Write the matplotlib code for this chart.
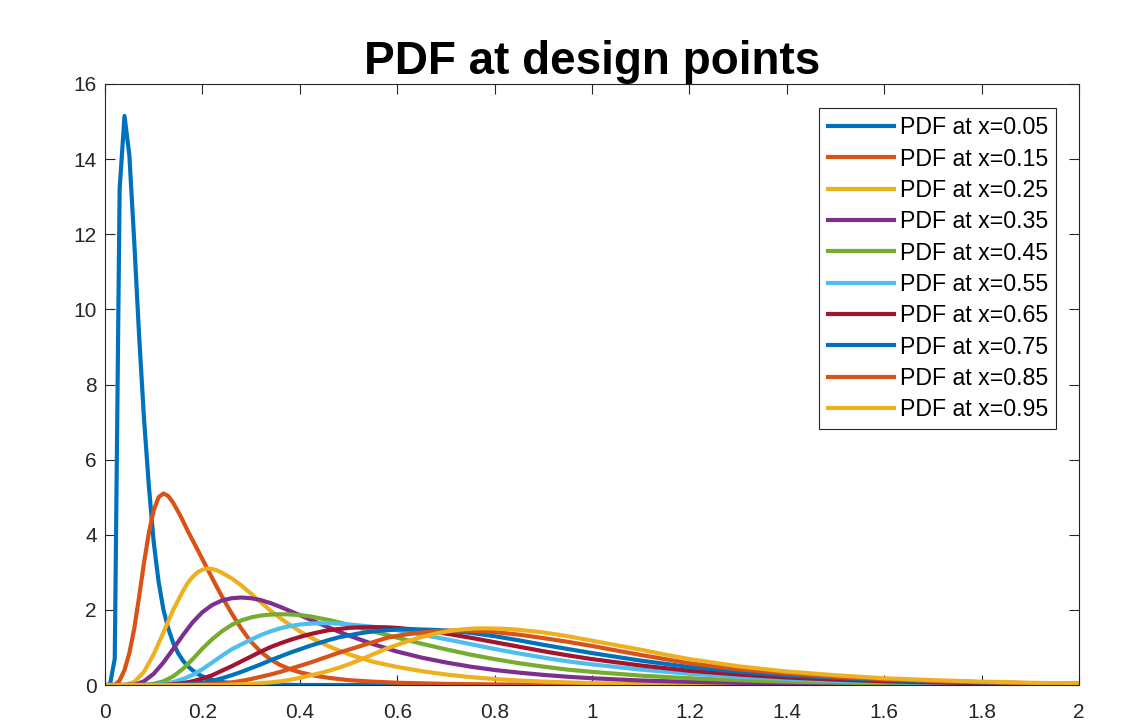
import matplotlib
matplotlib.use("Agg")
import matplotlib.pyplot as plt

plt.rcParams['font.family'] = ['Liberation Sans', 'DejaVu Sans']

labels = ["PDF at x=0.05", "PDF at x=0.15", "PDF at x=0.25", "PDF at x=0.35",
          "PDF at x=0.45", "PDF at x=0.55", "PDF at x=0.65", "PDF at x=0.75",
          "PDF at x=0.85", "PDF at x=0.95"]

x1 = [0, 0.01, 0.02, 0.03, 0.04, 0.05, 0.06, 0.07, 0.08, 0.09, 0.10, 0.11, 0.12, 0.13,
      0.14, 0.15, 0.16, 0.17, 0.18, 0.19, 0.20, 0.22, 0.24, 0.26, 0.30, 0.35, 0.40, 2.0]
y1 = [0, 0.0, 0.7, 13.2, 15.15, 14.1, 11.8, 9.3, 7.1, 5.3, 3.8, 2.75, 2.0, 1.5,
      1.12, 0.85, 0.65, 0.5, 0.39, 0.3, 0.23, 0.14, 0.08, 0.05, 0.02, 0.01, 0.0, 0.0]

x2 = [0, 0.02, 0.03, 0.04, 0.05, 0.06, 0.07, 0.08, 0.09, 0.10, 0.11, 0.12, 0.13, 0.14,
      0.15, 0.16, 0.17, 0.18, 0.19, 0.20, 0.21, 0.22, 0.23, 0.24, 0.25, 0.26, 0.27,
      0.28, 0.29, 0.30, 0.32, 0.34, 0.36, 0.38, 0.40, 0.43, 0.46, 0.50, 0.55, 0.60,
      0.70, 0.80, 1.0, 2.0]
y2 = [0, 0.0, 0.12, 0.4, 0.85, 1.5, 2.35, 3.25, 4.05, 4.65, 5.0, 5.1, 5.03, 4.85,
      4.62, 4.37, 4.1, 3.85, 3.6, 3.35, 3.1, 2.85, 2.6, 2.36, 2.13, 1.91, 1.7,
      1.5, 1.32, 1.15, 0.88, 0.68, 0.53, 0.42, 0.34, 0.25, 0.19, 0.13, 0.09, 0.06,
      0.03, 0.015, 0.005, 0.0]

x3 = [0, 0.04, 0.06, 0.08, 0.10, 0.12, 0.14, 0.16, 0.17, 0.18, 0.19, 0.20, 0.21, 0.22,
      0.23, 0.24, 0.26, 0.28, 0.30, 0.32, 0.34, 0.36, 0.38, 0.40, 0.42, 0.44, 0.46,
      0.48, 0.50, 0.55, 0.60, 0.65, 0.70, 0.75, 0.80, 0.85, 0.90, 1.0, 1.1, 1.2, 1.4, 2.0]
y3 = [0, 0.0, 0.08, 0.35, 0.82, 1.4, 2.0, 2.5, 2.72, 2.88, 3.0, 3.07, 3.1, 3.09,
      3.05, 2.99, 2.84, 2.65, 2.43, 2.2, 1.98, 1.78, 1.6, 1.43, 1.28, 1.15, 1.03,
      0.92, 0.82, 0.62, 0.48, 0.37, 0.28, 0.21, 0.16, 0.12, 0.09, 0.05, 0.03, 0.02,
      0.01, 0.0]

x4 = [0, 0.06, 0.08, 0.10, 0.12, 0.14, 0.16, 0.18, 0.20, 0.22, 0.24, 0.26, 0.28, 0.30,
      0.32, 0.34, 0.36, 0.38, 0.40, 0.42, 0.44, 0.46, 0.48, 0.50, 0.55, 0.60, 0.65,
      0.70, 0.75, 0.80, 0.85, 0.90, 0.95, 1.0, 1.1, 1.2, 1.3, 1.4, 1.6, 1.8, 2.0]
y4 = [0, 0.0, 0.1, 0.3, 0.6, 0.96, 1.33, 1.67, 1.94, 2.13, 2.25, 2.31, 2.33, 2.31,
      2.26, 2.18, 2.08, 1.97, 1.86, 1.75, 1.64, 1.53, 1.42, 1.32, 1.09, 0.89, 0.73,
      0.6, 0.49, 0.4, 0.33, 0.27, 0.22, 0.18, 0.12, 0.085, 0.06, 0.04, 0.02, 0.01, 0.005]

x5 = [0, 0.08, 0.10, 0.12, 0.14, 0.16, 0.18, 0.20, 0.22, 0.24, 0.26, 0.28, 0.30, 0.32,
      0.34, 0.36, 0.38, 0.40, 0.42, 0.44, 0.46, 0.48, 0.50, 0.55, 0.60, 0.65, 0.70,
      0.75, 0.80, 0.85, 0.90, 0.95, 1.0, 1.1, 1.2, 1.3, 1.4, 1.5, 1.6, 1.8, 2.0]
y5 = [0, 0.0, 0.03, 0.1, 0.23, 0.43, 0.69, 0.97, 1.22, 1.43, 1.6, 1.72, 1.8, 1.85,
      1.875, 1.885, 1.88, 1.86, 1.83, 1.78, 1.73, 1.67, 1.6, 1.43, 1.26, 1.1, 0.95,
      0.81, 0.69, 0.58, 0.49, 0.41, 0.35, 0.25, 0.18, 0.13, 0.09, 0.065, 0.045, 0.02, 0.01]

x6 = [0, 0.10, 0.12, 0.14, 0.16, 0.18, 0.20, 0.22, 0.24, 0.26, 0.28, 0.30, 0.32, 0.34,
      0.36, 0.38, 0.40, 0.42, 0.44, 0.46, 0.48, 0.50, 0.55, 0.60, 0.65, 0.70, 0.75,
      0.80, 0.85, 0.90, 0.95, 1.0, 1.1, 1.2, 1.3, 1.4, 1.5, 1.6, 1.7, 1.8, 1.9, 2.0]
y6 = [0, 0.0, 0.03, 0.08, 0.16, 0.27, 0.42, 0.6, 0.78, 0.95, 1.08, 1.21, 1.33, 1.43,
      1.51, 1.57, 1.61, 1.635, 1.645, 1.645, 1.635, 1.615, 1.55, 1.46, 1.34, 1.22, 1.09,
      0.96, 0.84, 0.73, 0.63, 0.55, 0.41, 0.3, 0.22, 0.16, 0.11, 0.08, 0.055, 0.04,
      0.025, 0.018]

x7 = [0, 0.12, 0.14, 0.16, 0.18, 0.20, 0.22, 0.24, 0.26, 0.28, 0.30, 0.32, 0.34, 0.36,
      0.38, 0.40, 0.42, 0.44, 0.46, 0.48, 0.50, 0.52, 0.54, 0.56, 0.58, 0.60, 0.65,
      0.70, 0.75, 0.80, 0.85, 0.90, 0.95, 1.0, 1.1, 1.2, 1.3, 1.4, 1.5, 1.6, 1.7, 1.8,
      1.9, 2.0]
y7 = [0, 0.0, 0.02, 0.05, 0.1, 0.17, 0.26, 0.38, 0.5, 0.63, 0.76, 0.89, 1.01, 1.11,
      1.2, 1.28, 1.35, 1.41, 1.46, 1.49, 1.52, 1.535, 1.54, 1.54, 1.535, 1.52, 1.46,
      1.37, 1.26, 1.14, 1.02, 0.9, 0.79, 0.69, 0.52, 0.38, 0.28, 0.2, 0.145, 0.1, 0.07,
      0.05, 0.035, 0.025]

x8 = [0, 0.14, 0.16, 0.18, 0.20, 0.22, 0.24, 0.26, 0.28, 0.30, 0.32, 0.34, 0.36, 0.38,
      0.40, 0.42, 0.44, 0.46, 0.48, 0.50, 0.52, 0.54, 0.56, 0.58, 0.60, 0.62, 0.64,
      0.66, 0.68, 0.70, 0.75, 0.80, 0.85, 0.90, 0.95, 1.0, 1.1, 1.2, 1.3, 1.4, 1.5,
      1.6, 1.7, 1.8, 1.9, 2.0]
y8 = [0, 0.0, 0.01, 0.03, 0.06, 0.11, 0.18, 0.26, 0.35, 0.45, 0.55, 0.66, 0.76, 0.86,
      0.95, 1.04, 1.12, 1.2, 1.27, 1.32, 1.37, 1.41, 1.44, 1.46, 1.475, 1.48, 1.48,
      1.475, 1.465, 1.45, 1.39, 1.3, 1.19, 1.07, 0.96, 0.85, 0.65, 0.48, 0.36, 0.26,
      0.19, 0.135, 0.095, 0.067, 0.047, 0.033]

x9 = [0, 0.16, 0.20, 0.24, 0.26, 0.28, 0.30, 0.32, 0.34, 0.36, 0.38, 0.40, 0.42, 0.44,
      0.46, 0.48, 0.50, 0.52, 0.54, 0.56, 0.58, 0.60, 0.62, 0.64, 0.66, 0.68, 0.70,
      0.72, 0.74, 0.76, 0.78, 0.80, 0.85, 0.90, 0.95, 1.0, 1.1, 1.2, 1.3, 1.4, 1.5,
      1.6, 1.7, 1.8, 1.9, 2.0]
y9 = [0, 0.0, 0.01, 0.04, 0.07, 0.11, 0.16, 0.22, 0.28, 0.35, 0.43, 0.51, 0.59, 0.68,
      0.77, 0.86, 0.94, 1.02, 1.1, 1.18, 1.26, 1.31, 1.35, 1.385, 1.41, 1.43, 1.445,
      1.45, 1.45, 1.44, 1.425, 1.41, 1.34, 1.25, 1.15, 1.04, 0.8, 0.58, 0.42, 0.31,
      0.22, 0.155, 0.11, 0.075, 0.05, 0.035]

x10 = [0, 0.24, 0.28, 0.30, 0.32, 0.34, 0.36, 0.38, 0.40, 0.42, 0.44, 0.46, 0.48, 0.50,
       0.52, 0.54, 0.56, 0.58, 0.60, 0.62, 0.64, 0.66, 0.68, 0.70, 0.72, 0.74, 0.76,
       0.78, 0.80, 0.82, 0.84, 0.86, 0.88, 0.90, 0.95, 1.0, 1.05, 1.1, 1.15, 1.2, 1.3,
       1.4, 1.5, 1.6, 1.7, 1.8, 1.9, 2.0]
y10 = [0, 0.0, 0.02, 0.03, 0.05, 0.07, 0.1, 0.14, 0.19, 0.25, 0.31, 0.38, 0.46, 0.55,
       0.65, 0.76, 0.87, 0.98, 1.07, 1.16, 1.24, 1.31, 1.37, 1.42, 1.46, 1.49, 1.505,
       1.51, 1.505, 1.495, 1.48, 1.455, 1.43, 1.4, 1.3, 1.18, 1.06, 0.94, 0.81, 0.69,
       0.5, 0.36, 0.26, 0.18, 0.13, 0.09, 0.06, 0.04]

xs = [x1, x2, x3, x4, x5, x6, x7, x8, x9, x10]
ys = [y1, y2, y3, y4, y5, y6, y7, y8, y9, y10]

colors = ["#0072BD", "#D95319", "#EDB120", "#7E2F8E", "#77AC30",
          "#4DBEEE", "#A2142F", "#0072BD", "#D95319", "#EDB120"]

fig = plt.figure(figsize=(11.44, 7.21), dpi=100)
ax = fig.add_axes([0.0918, 0.0499, 0.8514, 0.8336])

for xv, yv, c, lab in zip(xs, ys, colors, labels):
    ax.plot(xv, yv, color=c, lw=3.0, label=lab, solid_joinstyle='round')

ax.set_xlim(0, 2)
ax.set_ylim(0, 16)
ax.set_xticks([0, 0.2, 0.4, 0.6, 0.8, 1, 1.2, 1.4, 1.6, 1.8, 2])
ax.set_xticklabels(["0", "0.2", "0.4", "0.6", "0.8", "1", "1.2", "1.4", "1.6", "1.8", "2"])
ax.set_yticks(range(0, 17, 2))
ax.tick_params(direction='in', top=True, right=True, length=7, width=0.8,
               labelsize=15, colors='#262626', pad=6)
ax.tick_params(axis='x', pad=13)
for s in ax.spines.values():
    s.set_color('#262626')
    s.set_linewidth(0.8)

ax.set_title("PDF at design points", fontsize=33, fontweight='bold', pad=7)

leg = ax.legend(loc='upper right', bbox_to_anchor=(0.9764, 0.960), fontsize=16.7,
                frameon=True, fancybox=False, edgecolor='#262626', framealpha=1,
                handlelength=2.85, handletextpad=0.26, labelspacing=0.36,
                borderpad=0.35, borderaxespad=0)
leg.get_frame().set_linewidth(0.8)

fig.savefig("out.png", dpi=100)
